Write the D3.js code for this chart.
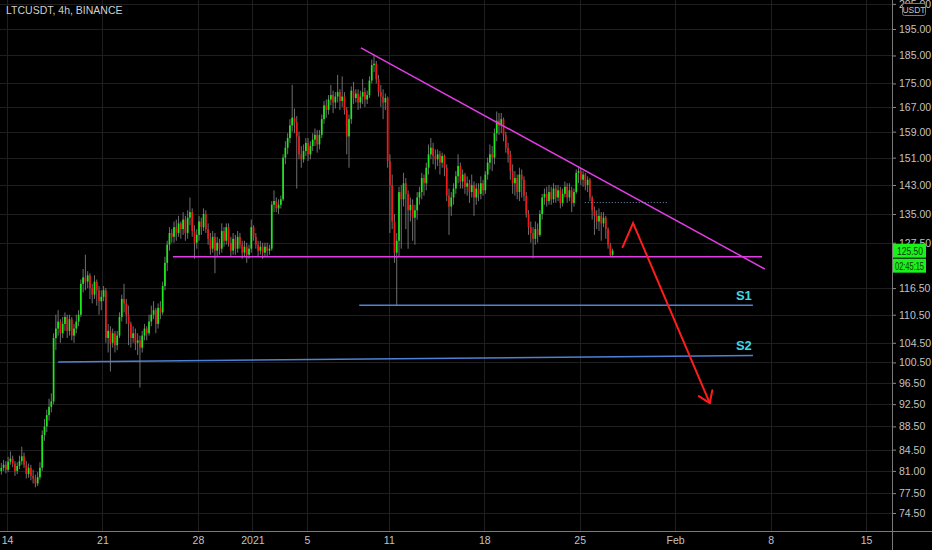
<!DOCTYPE html>
<html>
<meta charset="utf-8">
<script src="https://d3js.org/d3.v7.min.js"></script>
<style>
  body { margin: 0; background: #000; }
  text { font-family: "Liberation Sans", "DejaVu Sans", sans-serif; }
</style>
<div id="chart_div"></div>

<script>

var width = 932, height = 550;
var plotRight = 892, plotBottom = 531;

// 4h candles, first one opens Dec 13 2020 12:00 UTC
var startTime = Date.UTC(2020, 11, 13, 12);
var firstOpen = 81.0;

var closes = [
  81.5, 82.0, 81.2, 82.5, 83.0, 82.2, 81.0, 81.8, 82.6, 83.4,
  82.0, 80.5, 81.5, 80.2, 79.8, 79.0, 80.0, 81.5, 87.0, 88.5,
  90.5, 92.0, 93.0, 105.5, 107.5, 109.0, 106.5, 108.5, 110.0, 107.0,
  109.5, 106.0, 107.5, 109.0, 110.5, 117.5, 119.0, 118.0, 119.5, 116.5,
  115.0, 118.0, 116.0, 113.5, 114.5, 116.0, 105.5, 107.0, 104.5, 106.5,
  104.0, 106.0, 110.0, 114.0, 113.0, 110.5, 108.5, 105.5, 106.5, 104.5,
  105.0, 103.5, 106.0, 107.5, 106.5, 109.0, 110.5, 111.5, 108.5, 112.0,
  111.0, 117.0, 122.5, 127.0, 130.0, 129.0, 131.5, 130.0, 132.5, 131.0,
  133.5, 130.0, 134.0, 135.5, 130.5, 127.5, 129.5, 133.0, 131.5, 135.0,
  131.0, 128.5, 126.0, 129.0, 125.5, 127.5, 126.0, 130.5, 128.0, 131.5,
  127.5, 125.5, 128.5, 126.0, 129.0, 127.0, 125.0, 126.5, 124.5, 126.0,
  131.5, 129.0, 127.0, 125.5, 126.5, 125.0, 126.5, 125.5, 126.0, 137.5,
  138.5, 136.5, 137.5, 139.0, 151.0, 154.0, 157.0, 161.0, 163.5, 162.0,
  157.5, 152.0, 150.5, 153.0, 155.5, 152.0, 154.5, 156.5, 158.0, 155.0,
  158.0, 163.0, 167.5, 166.0, 169.5, 171.0, 168.5, 170.5, 172.0, 169.0,
  170.5, 166.0, 157.5, 163.0, 172.5, 170.0, 171.5, 168.5, 170.5, 172.0,
  169.5, 171.0, 176.0, 181.5, 182.0, 176.5, 172.0, 170.5, 168.5, 170.0,
  150.0, 143.0, 133.0, 125.0, 128.0, 141.0, 139.0, 143.5, 140.5, 136.0,
  137.5, 134.0, 136.0, 139.5, 141.0, 145.0, 143.5, 148.0, 152.0, 154.0,
  151.5, 150.5, 152.0, 149.5, 151.5, 148.0, 140.0, 137.0, 139.5, 142.0,
  145.5, 148.5, 144.0, 146.0, 142.5, 143.5, 141.0, 143.0, 139.5, 142.0,
  140.5, 143.5, 141.5, 146.0, 149.5, 152.0, 151.0, 158.5, 162.5, 161.0,
  163.0, 158.0, 154.0, 152.0, 147.0, 143.5, 145.0, 141.0, 146.0, 144.5,
  140.0, 135.0, 131.5, 130.0, 128.5, 131.0, 129.5, 135.0, 139.5, 140.5,
  138.5, 141.0, 139.0, 142.0, 139.5, 141.5, 138.0, 140.5, 142.5, 139.5,
  141.5, 138.0, 141.0, 146.5, 147.0, 144.5, 146.0, 143.0, 144.5, 139.5,
  136.0, 134.5, 133.0, 134.5, 132.5, 134.0, 131.0, 127.0, 124.5, 125.5
];

var highs = [
  82.3, 82.8, 82.6, 83.3, 84.2, 83.5, 82.6, 82.4, 83.5, 85.0,
  84.0, 82.6, 82.2, 82.0, 81.2, 80.4, 80.8, 82.4, 87.8, 89.8,
  91.5, 93.5, 94.5, 106.5, 110.5, 111.5, 109.5, 110.0, 111.0, 110.5,
  110.5, 110.0, 108.5, 110.5, 111.5, 118.5, 121.0, 124.5, 120.5, 120.0,
  117.5, 119.5, 118.5, 117.0, 116.0, 117.0, 116.5, 108.5, 108.0, 107.5,
  107.0, 107.0, 111.0, 115.0, 117.5, 114.0, 112.5, 109.0, 108.0, 107.5,
  106.5, 106.0, 107.0, 108.5, 108.0, 110.5, 112.5, 113.5, 112.0, 113.0,
  113.5, 118.0, 124.0, 128.0, 131.5, 131.0, 133.0, 133.5, 134.5, 133.0,
  135.5, 134.5, 136.0, 139.5, 136.5, 132.0, 131.0, 134.5, 134.0, 136.5,
  136.0, 132.5, 130.0, 130.5, 130.0, 129.0, 128.5, 132.5, 131.5, 132.5,
  132.5, 129.0, 130.0, 129.5, 130.5, 130.0, 128.0, 128.0, 127.5, 127.0,
  133.5, 132.0, 130.0, 128.0, 128.0, 127.5, 127.5, 127.5, 127.0, 138.5,
  141.5, 139.5, 139.0, 140.0, 152.0, 156.0, 158.5, 163.0, 174.5, 166.5,
  164.0, 159.0, 154.5, 155.0, 157.0, 157.0, 156.0, 158.5, 160.0, 159.5,
  159.5, 164.5, 169.0, 169.5, 171.0, 174.5, 172.5, 172.0, 178.0, 173.0,
  177.5, 172.0, 167.0, 164.5, 174.0, 175.5, 173.0, 173.0, 172.5, 176.5,
  173.5, 172.5, 177.5, 183.5, 185.5, 183.0, 178.0, 174.5, 173.0, 171.5,
  170.5, 152.0, 146.0, 135.0, 130.0, 142.5, 143.0, 146.5, 145.0, 141.5,
  139.5, 139.0, 137.5, 141.0, 142.5, 146.5, 146.0, 149.5, 155.0, 157.0,
  155.5, 153.5, 153.5, 153.0, 152.5, 152.0, 149.0, 142.0, 141.0, 143.5,
  147.0, 152.0, 149.5, 147.5, 146.5, 145.5, 144.5, 146.0, 144.0, 143.5,
  143.5, 145.5, 144.5, 147.0, 151.0, 155.0, 154.5, 160.0, 165.5, 165.0,
  165.0, 163.5, 159.0, 155.5, 153.0, 149.0, 147.0, 146.0, 148.0, 147.5,
  145.5, 141.0, 136.0, 133.0, 131.5, 133.0, 132.5, 136.0, 140.5, 142.0,
  142.5, 143.0, 142.5, 143.5, 143.0, 143.0, 142.5, 142.0, 144.0, 143.5,
  143.5, 142.5, 142.0, 147.5, 148.5, 148.0, 147.0, 146.5, 145.5, 145.0,
  140.0, 137.0, 136.0, 136.5, 135.5, 135.5, 134.5, 131.5, 127.5, 126.0
];

var lows = [
  80.4, 81.0, 80.6, 80.8, 82.0, 81.6, 80.2, 80.5, 81.3, 82.0,
  81.5, 79.8, 79.9, 79.5, 79.0, 78.4, 78.6, 79.6, 81.0, 86.0,
  87.5, 89.5, 91.0, 92.5, 103.0, 106.0, 104.5, 105.5, 107.0, 105.5,
  106.0, 105.0, 104.5, 106.5, 108.0, 110.0, 115.5, 116.0, 116.5, 114.0,
  113.0, 114.0, 112.5, 110.5, 111.5, 113.5, 104.5, 102.5, 98.7, 103.5,
  102.5, 103.0, 105.5, 109.0, 111.0, 108.5, 104.0, 103.5, 104.5, 103.0,
  102.0, 95.6, 102.5, 105.0, 105.0, 106.0, 108.0, 109.5, 106.5, 107.5,
  109.5, 110.5, 116.0, 120.5, 125.5, 127.5, 127.5, 128.0, 129.0, 128.5,
  129.5, 128.0, 128.5, 132.0, 129.0, 123.5, 126.0, 128.0, 129.5, 130.5,
  130.0, 127.0, 124.5, 125.0, 120.0, 124.0, 124.5, 125.0, 126.5, 127.0,
  126.5, 124.0, 124.5, 124.5, 125.0, 126.0, 123.5, 124.0, 122.5, 123.5,
  125.0, 128.0, 126.0, 124.0, 124.5, 123.5, 124.0, 124.0, 124.5, 125.5,
  135.5, 135.5, 135.0, 136.5, 138.5, 149.0, 152.0, 155.5, 159.0, 158.5,
  142.0, 150.5, 148.0, 149.5, 151.5, 150.0, 150.5, 153.0, 154.5, 152.5,
  153.5, 157.0, 161.5, 163.5, 164.5, 167.5, 165.0, 166.5, 168.5, 166.0,
  167.0, 164.5, 152.0, 148.0, 161.5, 168.0, 168.5, 166.0, 166.5, 168.0,
  167.0, 168.0, 170.0, 175.0, 179.0, 175.0, 170.5, 167.0, 163.0, 166.0,
  148.0, 130.0, 131.0, 122.5, 112.5, 124.0, 126.0, 137.0, 131.0, 126.0,
  133.0, 128.0, 127.0, 133.5, 137.5, 139.0, 140.0, 141.5, 146.0, 150.5,
  149.0, 147.5, 148.5, 146.0, 148.0, 145.5, 138.5, 129.5, 134.5, 137.5,
  140.5, 143.5, 142.0, 142.0, 140.5, 140.0, 138.0, 139.5, 134.5, 137.5,
  138.5, 139.0, 140.0, 140.5, 144.5, 147.5, 147.0, 149.0, 156.0, 158.0,
  158.5, 156.0, 152.5, 149.5, 144.5, 140.5, 140.0, 139.0, 138.5, 139.5,
  138.5, 134.0, 129.5, 127.5, 123.6, 127.0, 127.5, 129.0, 133.5, 137.5,
  137.0, 137.5, 137.5, 138.0, 138.0, 138.5, 136.5, 137.0, 139.5, 138.0,
  138.5, 135.5, 137.0, 140.5, 143.5, 143.0, 142.5, 141.5, 141.0, 138.5,
  133.5, 129.5, 131.0, 130.5, 128.0, 131.5, 128.5, 126.0, 124.0, 123.8
];

var priceTicks = [205, 195, 185, 175, 167, 159, 151, 143, 135, 127.5,
  116.5, 110.5, 104.5, 100.5, 96.5, 92.5, 88.5, 84.5, 81, 77.5, 74.5];

var dateTicks = [Date.UTC(2020, 11, 14), Date.UTC(2020, 11, 21), Date.UTC(2020, 11, 28),
  Date.UTC(2021, 0, 1), Date.UTC(2021, 0, 5), Date.UTC(2021, 0, 11), Date.UTC(2021, 0, 18),
  Date.UTC(2021, 0, 25), Date.UTC(2021, 1, 1), Date.UTC(2021, 1, 8), Date.UTC(2021, 1, 15)];
var dateLabels = ["14", "21", "28", "2021", "5", "11", "18", "25", "Feb", "8", "15"];

// drawings: [time, price]
var trendLine = [[Date.UTC(2021, 0, 8, 23), 187.8], [Date.UTC(2021, 1, 7, 14), 121.0]];
var supportLine = [[Date.UTC(2020, 11, 26, 4), 124.0], [Date.UTC(2021, 1, 7, 9), 124.0]];
var s1Line = [[Date.UTC(2021, 0, 8, 20), 112.6], [Date.UTC(2021, 1, 6, 17), 112.6]];
var s2Line = [[Date.UTC(2020, 11, 17, 18), 100.6], [Date.UTC(2021, 1, 6, 17), 101.9]];
var dottedLine = [[Date.UTC(2021, 0, 25, 9), 138.1], [Date.UTC(2021, 0, 31, 12), 138.1]];
var arrowPath = [[Date.UTC(2021, 0, 28, 3), 126.2], [Date.UTC(2021, 0, 28, 22), 132.6], [Date.UTC(2021, 1, 3, 13), 92.7]];
var labels = [{text: "S1", t: Date.UTC(2021, 1, 6, 1), p: 113.8}, {text: "S2", t: Date.UTC(2021, 1, 6, 1), p: 103.1}];

var lastPrice = 125.5, countdown = "02:45:15";

var svg = d3.select("#chart_div")
  .append("svg")
    .attr("width", width)
    .attr("height", height)
    .style("background", "#000");

var x = d3.scaleUtc()
  .domain([Date.UTC(2020, 11, 14), Date.UTC(2021, 1, 15)])
  .range([7, 866]);

var y = d3.scaleLog()
  .domain([74.5, 195])
  .range([513, 29]);

// grid
svg.append("g")
  .selectAll("line")
  .data(priceTicks)
  .enter().append("line")
    .attr("x1", 0).attr("x2", plotRight)
    .attr("y1", function(d) { return Math.round(y(d)) + 0.5; })
    .attr("y2", function(d) { return Math.round(y(d)) + 0.5; })
    .attr("stroke", "#1f1f1f");

svg.append("g")
  .selectAll("line")
  .data(dateTicks)
  .enter().append("line")
    .attr("x1", function(d) { return Math.round(x(d)) + 0.5; })
    .attr("x2", function(d) { return Math.round(x(d)) + 0.5; })
    .attr("y1", 0).attr("y2", plotBottom)
    .attr("stroke", "#1f1f1f");

// candles
var step = 4 * 3600 * 1000;
var candles = closes.map(function(c, i) {
  return {
    t: startTime + i * step,
    o: i === 0 ? firstOpen : closes[i - 1],
    h: highs[i], l: lows[i], c: c
  };
});
var bw = x(startTime + step) - x(startTime);

var cg = svg.append("g");
cg.selectAll("line.wick")
  .data(candles)
  .enter().append("line")
    .attr("class", "wick")
    .attr("x1", function(d) { return x(d.t) + bw / 2; })
    .attr("x2", function(d) { return x(d.t) + bw / 2; })
    .attr("y1", function(d) { return y(d.h); })
    .attr("y2", function(d) { return y(d.l); })
    .attr("stroke", "#8c8c8c")
    .attr("stroke-width", 0.8);

cg.selectAll("rect")
  .data(candles)
  .enter().append("rect")
    .attr("x", function(d) { return x(d.t) + bw / 2 - 0.85; })
    .attr("width", 1.7)
    .attr("y", function(d) { return y(Math.max(d.o, d.c)); })
    .attr("height", function(d) { return Math.max(1, Math.abs(y(d.o) - y(d.c))); })
    .attr("fill", function(d) { return d.c >= d.o ? "#1bea1b" : "#f01818"; });

// drawings
var line = d3.line()
  .x(function(d) { return x(d[0]); })
  .y(function(d) { return y(d[1]); });

svg.append("path").datum(s2Line).attr("d", line)
  .attr("fill", "none").attr("stroke", "#4d82d6").attr("stroke-width", 1.5);
svg.append("path").datum(s1Line).attr("d", line)
  .attr("fill", "none").attr("stroke", "#4d82d6").attr("stroke-width", 1.5);
svg.append("path").datum(supportLine).attr("d", line)
  .attr("fill", "none").attr("stroke", "#e23ce6").attr("stroke-width", 1.5);
svg.append("path").datum(trendLine).attr("d", line)
  .attr("fill", "none").attr("stroke", "#e23ce6").attr("stroke-width", 1.5);
svg.append("path").datum(dottedLine).attr("d", line)
  .attr("fill", "none").attr("stroke", "#6f8fb8").attr("stroke-width", 1)
  .attr("stroke-dasharray", "1,2");

svg.append("path").datum(arrowPath).attr("d", line)
  .attr("fill", "none").attr("stroke", "#ff1c1c").attr("stroke-width", 2)
  .attr("stroke-linejoin", "miter");

// arrow head
var a = arrowPath[1], b = arrowPath[2];
var ax = x(a[0]), ay = y(a[1]), tx = x(b[0]), ty = y(b[1]);
var ang = Math.atan2(ay - ty, ax - tx);
[-0.6, 0.6].forEach(function(off) {
  svg.append("line")
    .attr("x1", tx).attr("y1", ty)
    .attr("x2", tx + 13 * Math.cos(ang + off))
    .attr("y2", ty + 13 * Math.sin(ang + off))
    .attr("stroke", "#ff1c1c").attr("stroke-width", 2)
    .attr("stroke-linecap", "round");
});

svg.selectAll("text.slabel")
  .data(labels)
  .enter().append("text")
    .attr("class", "slabel")
    .attr("x", function(d) { return x(d.t); })
    .attr("y", function(d) { return y(d.p); })
    .attr("text-anchor", "middle")
    .attr("fill", "#3fd8e6")
    .attr("font-size", 13)
    .attr("font-weight", "bold")
    .text(function(d) { return d.text; });

// price axis
svg.append("rect")
  .attr("x", plotRight).attr("y", 0)
  .attr("width", width - plotRight).attr("height", height)
  .attr("fill", "#000");

var yAxis = svg.append("g")
  .attr("transform", "translate(" + plotRight + ",0)")
  .call(d3.axisRight(y).tickValues(priceTicks).tickFormat(d3.format(".2f")).tickSize(4).tickPadding(3));
yAxis.select(".domain").remove();
yAxis.selectAll("line").attr("stroke", "#8a8a8a");
yAxis.selectAll("text").attr("fill", "#c3c3c3").attr("font-size", 10.5)
  .style("font-family", "'Liberation Sans', sans-serif");

svg.append("line")
  .attr("x1", plotRight + 0.5).attr("x2", plotRight + 0.5)
  .attr("y1", 0).attr("y2", height)
  .attr("stroke", "#7a7a7a");

// time axis
var xAxis = svg.append("g")
  .attr("transform", "translate(0," + plotBottom + ")")
  .call(d3.axisBottom(x).tickValues(dateTicks)
    .tickFormat(function(d, i) { return dateLabels[i]; }).tickSize(0).tickPadding(6));
xAxis.select(".domain").remove();
xAxis.selectAll("text").attr("fill", "#c3c3c3").attr("font-size", 10.5)
  .style("font-family", "'Liberation Sans', sans-serif");

svg.append("line")
  .attr("x1", 0).attr("x2", width)
  .attr("y1", plotBottom + 0.5).attr("y2", plotBottom + 0.5)
  .attr("stroke", "#7a7a7a");

// USDT box, drawn over the top tick label as in the original
svg.append("rect")
  .attr("x", 902.5).attr("y", 3.5).attr("width", 23).attr("height", 12)
  .attr("fill", "#000").attr("stroke", "#7a7a7a").attr("rx", 2);
svg.append("text")
  .attr("x", 914).attr("y", 13).attr("text-anchor", "middle")
  .attr("fill", "#c3c3c3").attr("font-size", 8.5).text("USDT");

// last price labels
var ly = y(lastPrice);
svg.append("rect")
  .attr("x", plotRight + 1).attr("y", ly - 7).attr("width", 33).attr("height", 14)
  .attr("fill", "#1bf01b");
svg.append("text")
  .attr("x", plotRight + 5).attr("y", ly + 4)
  .attr("fill", "#0a3a0a").attr("font-size", 10)
  .attr("textLength", 26).attr("lengthAdjust", "spacingAndGlyphs")
  .text(d3.format(".2f")(lastPrice));
svg.append("rect")
  .attr("x", plotRight + 1).attr("y", ly + 8).attr("width", 33).attr("height", 14)
  .attr("fill", "#1bf01b");
svg.append("text")
  .attr("x", plotRight + 3).attr("y", ly + 19)
  .attr("fill", "#0a3a0a").attr("font-size", 10)
  .attr("textLength", 29).attr("lengthAdjust", "spacingAndGlyphs")
  .text(countdown);

// title
svg.append("text")
  .attr("x", 6).attr("y", 14)
  .attr("fill", "#cfcfcf").attr("font-size", 10.5)
  .text("LTCUSDT, 4h, BINANCE");

</script>
</html>
